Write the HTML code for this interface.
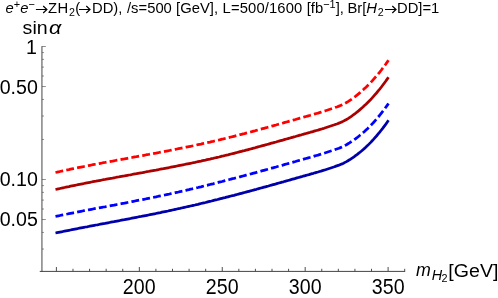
<!DOCTYPE html>
<html><head><meta charset="utf-8"><style>
html,body{margin:0;padding:0;background:#fff;}
body{width:498px;height:298px;overflow:hidden;position:relative;font-family:"Liberation Sans",sans-serif;color:#000;}
svg.plot{position:absolute;left:0;top:0;}
.t{position:absolute;white-space:nowrap;line-height:20px;height:20px;}
.tt{font-size:14.8px;top:-1.7px;transform:scaleY(1.03);transform-origin:0 15.2px;}
.lab{font-size:19.6px;transform:scaleY(1.05);transform-origin:50% 50%;}
i{font-style:italic;}
sup{font-size:74%;line-height:0;vertical-align:baseline;position:relative;top:-0.46em;}
sub{font-size:72%;line-height:0;vertical-align:baseline;position:relative;top:0.25em;margin-left:0.8px;}
svg.ar{display:block;}
</style></head><body>
<svg class="plot" width="498" height="298" viewBox="0 0 498 298">
<g stroke="#444" stroke-width="1" fill="none">
<line x1="41.95" y1="46.2" x2="41.95" y2="271.9"/>
<line x1="39.75" y1="271.4" x2="405.15" y2="271.4"/>
</g><g stroke="#444" stroke-width="0.6" fill="none"><line x1="41.95" y1="46.50" x2="45.85" y2="46.50"/>
<line x1="41.95" y1="52.59" x2="43.95" y2="52.59"/>
<line x1="41.95" y1="59.39" x2="43.95" y2="59.39"/>
<line x1="41.95" y1="67.10" x2="43.95" y2="67.10"/>
<line x1="41.95" y1="76.01" x2="43.95" y2="76.01"/>
<line x1="41.95" y1="86.54" x2="45.85" y2="86.54"/>
<line x1="41.95" y1="99.43" x2="43.95" y2="99.43"/>
<line x1="41.95" y1="116.04" x2="43.95" y2="116.04"/>
<line x1="41.95" y1="139.46" x2="43.95" y2="139.46"/>
<line x1="41.95" y1="179.50" x2="45.85" y2="179.50"/>
<line x1="41.95" y1="185.59" x2="43.95" y2="185.59"/>
<line x1="41.95" y1="192.39" x2="43.95" y2="192.39"/>
<line x1="41.95" y1="200.10" x2="43.95" y2="200.10"/>
<line x1="41.95" y1="209.01" x2="43.95" y2="209.01"/>
<line x1="41.95" y1="219.54" x2="45.85" y2="219.54"/>
<line x1="41.95" y1="232.43" x2="43.95" y2="232.43"/>
<line x1="41.95" y1="249.04" x2="43.95" y2="249.04"/>
</g><g stroke="#444" stroke-width="0.95" fill="none"><line x1="56.40" y1="271.4" x2="56.40" y2="267.0"/>
<line x1="72.98" y1="271.4" x2="72.98" y2="268.79999999999995"/>
<line x1="89.57" y1="271.4" x2="89.57" y2="268.79999999999995"/>
<line x1="106.16" y1="271.4" x2="106.16" y2="268.79999999999995"/>
<line x1="122.74" y1="271.4" x2="122.74" y2="268.79999999999995"/>
<line x1="139.33" y1="271.4" x2="139.33" y2="267.0"/>
<line x1="155.91" y1="271.4" x2="155.91" y2="268.79999999999995"/>
<line x1="172.50" y1="271.4" x2="172.50" y2="268.79999999999995"/>
<line x1="189.08" y1="271.4" x2="189.08" y2="268.79999999999995"/>
<line x1="205.67" y1="271.4" x2="205.67" y2="268.79999999999995"/>
<line x1="222.25" y1="271.4" x2="222.25" y2="267.0"/>
<line x1="238.84" y1="271.4" x2="238.84" y2="268.79999999999995"/>
<line x1="255.42" y1="271.4" x2="255.42" y2="268.79999999999995"/>
<line x1="272.00" y1="271.4" x2="272.00" y2="268.79999999999995"/>
<line x1="288.59" y1="271.4" x2="288.59" y2="268.79999999999995"/>
<line x1="305.18" y1="271.4" x2="305.18" y2="267.0"/>
<line x1="321.76" y1="271.4" x2="321.76" y2="268.79999999999995"/>
<line x1="338.34" y1="271.4" x2="338.34" y2="268.79999999999995"/>
<line x1="354.93" y1="271.4" x2="354.93" y2="268.79999999999995"/>
<line x1="371.51" y1="271.4" x2="371.51" y2="268.79999999999995"/>
<line x1="388.10" y1="271.4" x2="388.10" y2="267.0"/>
<line x1="404.69" y1="271.4" x2="404.69" y2="268.79999999999995"/>
</g>
<path d="M55.5,233.0 L57.0,232.7 L58.5,232.4 L60.0,232.1 L61.5,231.8 L63.0,231.5 L64.5,231.2 L66.0,230.9 L67.5,230.6 L69.0,230.3 L70.5,230.0 L72.0,229.7 L73.5,229.4 L75.0,229.1 L76.5,228.8 L78.0,228.5 L79.5,228.2 L81.0,227.9 L82.5,227.6 L84.0,227.3 L85.5,227.0 L87.0,226.8 L88.5,226.5 L90.0,226.2 L91.5,225.9 L93.0,225.6 L94.5,225.3 L96.0,225.0 L97.5,224.8 L99.0,224.5 L100.5,224.2 L102.0,223.9 L103.5,223.6 L105.0,223.4 L106.5,223.1 L108.0,222.8 L109.5,222.5 L111.0,222.2 L112.5,221.9 L114.0,221.7 L115.5,221.4 L117.0,221.1 L118.5,220.8 L120.0,220.5 L121.5,220.2 L123.0,219.9 L124.5,219.7 L126.0,219.4 L127.5,219.1 L129.0,218.8 L130.5,218.5 L132.0,218.2 L133.5,217.9 L135.0,217.6 L136.5,217.3 L138.0,217.0 L139.5,216.7 L141.0,216.5 L142.5,216.2 L144.0,215.9 L145.5,215.6 L147.0,215.3 L148.5,215.0 L150.0,214.7 L151.5,214.4 L153.0,214.1 L154.5,213.8 L156.0,213.5 L157.5,213.2 L159.0,212.9 L160.5,212.6 L162.0,212.2 L163.5,211.9 L165.0,211.6 L166.5,211.3 L168.0,211.0 L169.5,210.6 L171.0,210.3 L172.5,210.0 L174.0,209.7 L175.5,209.3 L177.0,209.0 L178.5,208.7 L180.0,208.4 L181.5,208.0 L183.0,207.7 L184.5,207.3 L186.0,207.0 L187.5,206.7 L189.0,206.3 L190.5,206.0 L192.0,205.7 L193.5,205.3 L195.0,205.0 L196.5,204.6 L198.0,204.3 L199.5,203.9 L201.0,203.5 L202.5,203.2 L204.0,202.8 L205.5,202.5 L207.0,202.1 L208.5,201.7 L210.0,201.3 L211.5,201.0 L213.0,200.6 L214.5,200.2 L216.0,199.8 L217.5,199.5 L219.0,199.1 L220.5,198.7 L222.0,198.3 L223.5,197.9 L225.0,197.6 L226.5,197.2 L228.0,196.8 L229.5,196.4 L231.0,196.0 L232.5,195.6 L234.0,195.3 L235.5,194.9 L237.0,194.5 L238.5,194.1 L240.0,193.7 L241.5,193.3 L243.0,192.9 L244.5,192.5 L246.0,192.1 L247.5,191.7 L249.0,191.3 L250.5,190.9 L252.0,190.5 L253.5,190.1 L255.0,189.7 L256.5,189.3 L258.0,188.8 L259.5,188.4 L261.0,188.0 L262.5,187.6 L264.0,187.2 L265.5,186.8 L267.0,186.4 L268.5,186.0 L270.0,185.5 L271.5,185.1 L273.0,184.7 L274.5,184.3 L276.0,183.9 L277.5,183.4 L279.0,183.0 L280.5,182.6 L282.0,182.2 L283.5,181.8 L285.0,181.3 L286.5,180.9 L288.0,180.5 L289.5,180.1 L291.0,179.6 L292.5,179.2 L294.0,178.8 L295.5,178.4 L297.0,177.9 L298.5,177.5 L300.0,177.1 L301.5,176.7 L303.0,176.2 L304.5,175.8 L306.0,175.4 L307.5,175.0 L309.0,174.6 L310.5,174.1 L312.0,173.7 L313.5,173.3 L315.0,172.8 L316.5,172.4 L318.0,172.0 L319.5,171.5 L321.0,171.1 L322.5,170.6 L324.0,170.2 L325.5,169.7 L327.0,169.2 L328.5,168.7 L330.0,168.2 L331.5,167.7 L333.0,167.2 L334.5,166.7 L336.0,166.1 L337.5,165.6 L339.0,165.1 L340.5,164.5 L342.0,163.9 L343.5,163.2 L345.0,162.4 L346.5,161.6 L348.0,160.7 L349.5,159.8 L351.0,158.8 L352.5,157.8 L354.0,156.8 L355.5,155.7 L357.0,154.6 L358.5,153.4 L360.0,152.2 L361.5,151.0 L363.0,149.7 L364.5,148.4 L366.0,147.0 L367.5,145.6 L369.0,144.1 L370.5,142.6 L372.0,141.0 L373.5,139.4 L375.0,137.7 L376.5,136.0 L378.0,134.2 L379.5,132.4 L381.0,130.5 L382.5,128.6 L384.0,126.6 L385.5,124.6 L387.0,122.5 L388.5,120.3" fill="none" stroke="#0000aa" stroke-width="2.75" stroke-linejoin="round"/>
<path d="M55.5,216.4 L57.0,216.1 L58.5,215.8 L60.0,215.5 L61.5,215.2 L63.0,214.9 L64.5,214.6 L66.0,214.3 L67.5,214.0 L69.0,213.7 L70.5,213.4 L72.0,213.1 L73.5,212.8 L75.0,212.5 L76.5,212.2 L78.0,211.9 L79.5,211.6 L81.0,211.3 L82.5,211.0 L84.0,210.7 L85.5,210.4 L87.0,210.2 L88.5,209.9 L90.0,209.6 L91.5,209.3 L93.0,209.0 L94.5,208.7 L96.0,208.4 L97.5,208.2 L99.0,207.9 L100.5,207.6 L102.0,207.3 L103.5,207.0 L105.0,206.8 L106.5,206.5 L108.0,206.2 L109.5,205.9 L111.0,205.6 L112.5,205.3 L114.0,205.1 L115.5,204.8 L117.0,204.5 L118.5,204.2 L120.0,203.9 L121.5,203.6 L123.0,203.3 L124.5,203.1 L126.0,202.8 L127.5,202.5 L129.0,202.2 L130.5,201.9 L132.0,201.6 L133.5,201.3 L135.0,201.0 L136.5,200.7 L138.0,200.4 L139.5,200.1 L141.0,199.9 L142.5,199.6 L144.0,199.3 L145.5,199.0 L147.0,198.7 L148.5,198.4 L150.0,198.1 L151.5,197.8 L153.0,197.5 L154.5,197.2 L156.0,196.9 L157.5,196.5 L159.0,196.2 L160.5,195.9 L162.0,195.6 L163.5,195.3 L165.0,195.0 L166.5,194.6 L168.0,194.3 L169.5,194.0 L171.0,193.6 L172.5,193.3 L174.0,193.0 L175.5,192.6 L177.0,192.3 L178.5,192.0 L180.0,191.6 L181.5,191.3 L183.0,191.0 L184.5,190.6 L186.0,190.3 L187.5,189.9 L189.0,189.6 L190.5,189.2 L192.0,188.9 L193.5,188.5 L195.0,188.2 L196.5,187.8 L198.0,187.5 L199.5,187.1 L201.0,186.8 L202.5,186.4 L204.0,186.0 L205.5,185.6 L207.0,185.3 L208.5,184.9 L210.0,184.5 L211.5,184.1 L213.0,183.8 L214.5,183.4 L216.0,183.0 L217.5,182.6 L219.0,182.2 L220.5,181.8 L222.0,181.5 L223.5,181.1 L225.0,180.7 L226.5,180.3 L228.0,179.9 L229.5,179.5 L231.0,179.1 L232.5,178.7 L234.0,178.4 L235.5,178.0 L237.0,177.6 L238.5,177.2 L240.0,176.8 L241.5,176.4 L243.0,176.0 L244.5,175.6 L246.0,175.2 L247.5,174.8 L249.0,174.4 L250.5,174.0 L252.0,173.6 L253.5,173.2 L255.0,172.8 L256.5,172.4 L258.0,171.9 L259.5,171.5 L261.0,171.1 L262.5,170.7 L264.0,170.3 L265.5,169.9 L267.0,169.5 L268.5,169.1 L270.0,168.6 L271.5,168.2 L273.0,167.8 L274.5,167.4 L276.0,167.0 L277.5,166.5 L279.0,166.1 L280.5,165.7 L282.0,165.3 L283.5,164.9 L285.0,164.4 L286.5,164.0 L288.0,163.6 L289.5,163.2 L291.0,162.7 L292.5,162.3 L294.0,161.9 L295.5,161.5 L297.0,161.0 L298.5,160.6 L300.0,160.2 L301.5,159.8 L303.0,159.3 L304.5,158.9 L306.0,158.5 L307.5,158.1 L309.0,157.7 L310.5,157.2 L312.0,156.8 L313.5,156.4 L315.0,155.9 L316.5,155.5 L318.0,155.1 L319.5,154.6 L321.0,154.2 L322.5,153.7 L324.0,153.3 L325.5,152.8 L327.0,152.3 L328.5,151.8 L330.0,151.3 L331.5,150.8 L333.0,150.3 L334.5,149.8 L336.0,149.2 L337.5,148.7 L339.0,148.2 L340.5,147.6 L342.0,147.0 L343.5,146.3 L345.0,145.5 L346.5,144.7 L348.0,143.8 L349.5,142.9 L351.0,141.9 L352.5,140.9 L354.0,139.9 L355.5,138.8 L357.0,137.7 L358.5,136.5 L360.0,135.3 L361.5,134.1 L363.0,132.8 L364.5,131.5 L366.0,130.1 L367.5,128.7 L369.0,127.2 L370.5,125.7 L372.0,124.1 L373.5,122.5 L375.0,120.8 L376.5,119.1 L378.0,117.3 L379.5,115.5 L381.0,113.6 L382.5,111.7 L384.0,109.7 L385.5,107.7 L387.0,105.6 L388.5,103.4" fill="none" stroke="#0000ff" stroke-width="2.75" stroke-dasharray="7.85 3.2" stroke-linejoin="round"/>
<path d="M55.5,189.5 L57.0,189.2 L58.5,188.8 L60.0,188.5 L61.5,188.2 L63.0,187.8 L64.5,187.5 L66.0,187.2 L67.5,186.9 L69.0,186.6 L70.5,186.2 L72.0,185.9 L73.5,185.6 L75.0,185.3 L76.5,185.0 L78.0,184.7 L79.5,184.4 L81.0,184.1 L82.5,183.8 L84.0,183.5 L85.5,183.2 L87.0,182.9 L88.5,182.6 L90.0,182.3 L91.5,182.0 L93.0,181.7 L94.5,181.4 L96.0,181.2 L97.5,180.9 L99.0,180.6 L100.5,180.3 L102.0,180.0 L103.5,179.7 L105.0,179.5 L106.5,179.2 L108.0,178.9 L109.5,178.6 L111.0,178.3 L112.5,178.1 L114.0,177.8 L115.5,177.5 L117.0,177.2 L118.5,177.0 L120.0,176.7 L121.5,176.4 L123.0,176.1 L124.5,175.9 L126.0,175.6 L127.5,175.3 L129.0,175.0 L130.5,174.8 L132.0,174.5 L133.5,174.2 L135.0,173.9 L136.5,173.7 L138.0,173.4 L139.5,173.1 L141.0,172.8 L142.5,172.6 L144.0,172.3 L145.5,172.0 L147.0,171.7 L148.5,171.5 L150.0,171.2 L151.5,170.9 L153.0,170.6 L154.5,170.3 L156.0,170.1 L157.5,169.8 L159.0,169.5 L160.5,169.2 L162.0,168.9 L163.5,168.7 L165.0,168.4 L166.5,168.1 L168.0,167.8 L169.5,167.5 L171.0,167.2 L172.5,166.9 L174.0,166.6 L175.5,166.3 L177.0,166.0 L178.5,165.7 L180.0,165.4 L181.5,165.1 L183.0,164.8 L184.5,164.5 L186.0,164.2 L187.5,163.9 L189.0,163.6 L190.5,163.3 L192.0,163.0 L193.5,162.7 L195.0,162.4 L196.5,162.0 L198.0,161.7 L199.5,161.4 L201.0,161.1 L202.5,160.7 L204.0,160.4 L205.5,160.1 L207.0,159.7 L208.5,159.4 L210.0,159.1 L211.5,158.7 L213.0,158.4 L214.5,158.0 L216.0,157.7 L217.5,157.3 L219.0,157.0 L220.5,156.6 L222.0,156.2 L223.5,155.9 L225.0,155.5 L226.5,155.1 L228.0,154.8 L229.5,154.4 L231.0,154.0 L232.5,153.7 L234.0,153.3 L235.5,152.9 L237.0,152.5 L238.5,152.1 L240.0,151.7 L241.5,151.3 L243.0,150.9 L244.5,150.6 L246.0,150.2 L247.5,149.8 L249.0,149.4 L250.5,149.0 L252.0,148.6 L253.5,148.2 L255.0,147.8 L256.5,147.3 L258.0,146.9 L259.5,146.5 L261.0,146.1 L262.5,145.7 L264.0,145.3 L265.5,144.9 L267.0,144.5 L268.5,144.1 L270.0,143.6 L271.5,143.2 L273.0,142.8 L274.5,142.4 L276.0,142.0 L277.5,141.5 L279.0,141.1 L280.5,140.7 L282.0,140.3 L283.5,139.9 L285.0,139.4 L286.5,139.0 L288.0,138.6 L289.5,138.2 L291.0,137.7 L292.5,137.3 L294.0,136.9 L295.5,136.5 L297.0,136.0 L298.5,135.6 L300.0,135.2 L301.5,134.8 L303.0,134.3 L304.5,133.9 L306.0,133.5 L307.5,133.1 L309.0,132.7 L310.5,132.2 L312.0,131.8 L313.5,131.4 L315.0,130.9 L316.5,130.5 L318.0,130.1 L319.5,129.6 L321.0,129.2 L322.5,128.7 L324.0,128.3 L325.5,127.8 L327.0,127.3 L328.5,126.8 L330.0,126.3 L331.5,125.8 L333.0,125.3 L334.5,124.8 L336.0,124.2 L337.5,123.7 L339.0,123.1 L340.5,122.5 L342.0,121.9 L343.5,121.1 L345.0,120.3 L346.5,119.5 L348.0,118.6 L349.5,117.6 L351.0,116.6 L352.5,115.5 L354.0,114.4 L355.5,113.3 L357.0,112.1 L358.5,110.9 L360.0,109.6 L361.5,108.3 L363.0,107.0 L364.5,105.6 L366.0,104.2 L367.5,102.7 L369.0,101.2 L370.5,99.7 L372.0,98.1 L373.5,96.4 L375.0,94.7 L376.5,93.0 L378.0,91.2 L379.5,89.4 L381.0,87.5 L382.5,85.5 L384.0,83.5 L385.5,81.5 L387.0,79.4 L388.5,77.2" fill="none" stroke="#aa0000" stroke-width="2.75" stroke-linejoin="round"/>
<path d="M55.5,172.5 L57.0,172.2 L58.5,171.8 L60.0,171.5 L61.5,171.2 L63.0,170.8 L64.5,170.5 L66.0,170.2 L67.5,169.9 L69.0,169.6 L70.5,169.2 L72.0,168.9 L73.5,168.6 L75.0,168.3 L76.5,168.0 L78.0,167.7 L79.5,167.4 L81.0,167.1 L82.5,166.8 L84.0,166.5 L85.5,166.2 L87.0,165.9 L88.5,165.6 L90.0,165.3 L91.5,165.0 L93.0,164.7 L94.5,164.4 L96.0,164.2 L97.5,163.9 L99.0,163.6 L100.5,163.3 L102.0,163.0 L103.5,162.7 L105.0,162.5 L106.5,162.2 L108.0,161.9 L109.5,161.6 L111.0,161.3 L112.5,161.1 L114.0,160.8 L115.5,160.5 L117.0,160.2 L118.5,160.0 L120.0,159.7 L121.5,159.4 L123.0,159.1 L124.5,158.9 L126.0,158.6 L127.5,158.3 L129.0,158.0 L130.5,157.8 L132.0,157.5 L133.5,157.2 L135.0,156.9 L136.5,156.7 L138.0,156.4 L139.5,156.1 L141.0,155.8 L142.5,155.6 L144.0,155.3 L145.5,155.0 L147.0,154.7 L148.5,154.5 L150.0,154.2 L151.5,153.9 L153.0,153.6 L154.5,153.3 L156.0,153.1 L157.5,152.8 L159.0,152.5 L160.5,152.2 L162.0,151.9 L163.5,151.7 L165.0,151.4 L166.5,151.1 L168.0,150.8 L169.5,150.5 L171.0,150.2 L172.5,149.9 L174.0,149.6 L175.5,149.3 L177.0,149.0 L178.5,148.7 L180.0,148.4 L181.5,148.1 L183.0,147.8 L184.5,147.5 L186.0,147.2 L187.5,146.9 L189.0,146.6 L190.5,146.3 L192.0,146.0 L193.5,145.7 L195.0,145.4 L196.5,145.0 L198.0,144.7 L199.5,144.4 L201.0,144.1 L202.5,143.7 L204.0,143.4 L205.5,143.1 L207.0,142.7 L208.5,142.4 L210.0,142.1 L211.5,141.7 L213.0,141.4 L214.5,141.0 L216.0,140.7 L217.5,140.3 L219.0,140.0 L220.5,139.6 L222.0,139.2 L223.5,138.9 L225.0,138.5 L226.5,138.1 L228.0,137.8 L229.5,137.4 L231.0,137.0 L232.5,136.7 L234.0,136.3 L235.5,135.9 L237.0,135.5 L238.5,135.1 L240.0,134.7 L241.5,134.3 L243.0,133.9 L244.5,133.6 L246.0,133.2 L247.5,132.8 L249.0,132.4 L250.5,132.0 L252.0,131.6 L253.5,131.2 L255.0,130.8 L256.5,130.3 L258.0,129.9 L259.5,129.5 L261.0,129.1 L262.5,128.7 L264.0,128.3 L265.5,127.9 L267.0,127.5 L268.5,127.1 L270.0,126.6 L271.5,126.2 L273.0,125.8 L274.5,125.4 L276.0,125.0 L277.5,124.5 L279.0,124.1 L280.5,123.7 L282.0,123.3 L283.5,122.9 L285.0,122.4 L286.5,122.0 L288.0,121.6 L289.5,121.2 L291.0,120.7 L292.5,120.3 L294.0,119.9 L295.5,119.5 L297.0,119.0 L298.5,118.6 L300.0,118.2 L301.5,117.8 L303.0,117.3 L304.5,116.9 L306.0,116.5 L307.5,116.1 L309.0,115.7 L310.5,115.2 L312.0,114.8 L313.5,114.4 L315.0,113.9 L316.5,113.5 L318.0,113.1 L319.5,112.6 L321.0,112.2 L322.5,111.7 L324.0,111.3 L325.5,110.8 L327.0,110.3 L328.5,109.8 L330.0,109.3 L331.5,108.8 L333.0,108.3 L334.5,107.8 L336.0,107.2 L337.5,106.7 L339.0,106.1 L340.5,105.5 L342.0,104.9 L343.5,104.1 L345.0,103.3 L346.5,102.5 L348.0,101.6 L349.5,100.6 L351.0,99.6 L352.5,98.5 L354.0,97.4 L355.5,96.3 L357.0,95.1 L358.5,93.9 L360.0,92.6 L361.5,91.3 L363.0,90.0 L364.5,88.6 L366.0,87.2 L367.5,85.7 L369.0,84.2 L370.5,82.7 L372.0,81.1 L373.5,79.4 L375.0,77.7 L376.5,76.0 L378.0,74.2 L379.5,72.4 L381.0,70.5 L382.5,68.5 L384.0,66.5 L385.5,64.5 L387.0,62.4 L388.5,60.2" fill="none" stroke="#ff0000" stroke-width="2.75" stroke-dasharray="7.85 3.2" stroke-linejoin="round"/>
<path d="M35.9,9.5 H46.70 M43.20,6.0 L46.90,9.5 L43.20,13.0" fill="none" stroke="#000" stroke-width="1.2"/>
<path d="M79.0,9.5 H89.80 M86.30,6.0 L90.00,9.5 L86.30,13.0" fill="none" stroke="#000" stroke-width="1.2"/>
<path d="M385.0,9.5 H395.80 M392.30,6.0 L396.00,9.5 L392.30,13.0" fill="none" stroke="#000" stroke-width="1.2"/>
</svg>
<div id="txt" style="will-change:transform;position:absolute;left:0;top:0;width:498px;height:298px;">
<div class="t tt" id="c1" style="left:5.6px;"><i>e</i><sup>+</sup><i>e</i><sup>&minus;</sup></div>
<div class="t tt" id="c3a" style="left:48.0px;">Z</div>
<div class="t tt" id="c3" style="left:57.4px;">H<sub style="margin-right:0.4px">2</sub>(</div>
<div class="t tt" id="c5" style="left:92.0px;">DD),</div>
<div class="t tt" id="c6" style="left:127.0px;">/s=500</div>
<div class="t tt" id="c7" style="left:176.1px;">[GeV],</div>
<div class="t tt" id="c8" style="left:222.6px;"><span style="letter-spacing:0.12px">L=500/1600</span></div>
<div class="t tt" id="c9" style="left:306.7px;">[fb<sup>&minus;1</sup>],</div>
<div class="t tt" id="c10" style="left:347.4px;">Br[<i>H</i><sub>2</sub></div>
<div class="t tt" id="c12" style="left:397.0px;">DD]=1</div>

<div class="t lab" id="ylab" style="left:22.6px;top:17.15px;transform:scaleY(0.94);transform-origin:0 17.5px;">sin<i style="margin-left:1.1px;display:inline-block;transform:scaleX(1.1);transform-origin:0 50%;">&alpha;</i></div>
<div class="t lab" id="y1" style="right:461.0px;top:37.1px;">1</div>
<div class="t lab" id="y05" style="right:460.2px;top:76.7px;">0.50</div>
<div class="t lab" id="y01" style="right:460.2px;top:169.2px;">0.10</div>
<div class="t lab" id="y005" style="right:460.2px;top:209.2px;">0.05</div>
<div class="t lab" id="x200" style="left:139.2px;top:276.2px;transform:translateX(-50%) scaleY(1.09);">200</div>
<div class="t lab" id="x250" style="left:222.2px;top:276.2px;transform:translateX(-50%) scaleY(1.09);">250</div>
<div class="t lab" id="x300" style="left:305.2px;top:276.2px;transform:translateX(-50%) scaleY(1.09);">300</div>
<div class="t lab" id="x350" style="left:388.2px;top:276.2px;transform:translateX(-50%) scaleY(1.09);">350</div>
<div class="t" id="xm" style="left:416px;top:260.0px;font-size:17.8px;"><i>m</i></div>
<div class="t" id="xH" style="left:431.8px;top:265.0px;font-size:14.4px;"><i>H</i></div>
<div class="t" id="x2" style="left:441.5px;top:267.9px;font-size:10.8px;">2</div>
<div class="t lab" id="xgev" style="left:448.3px;top:259.5px;transform:scaleY(0.975);">[GeV]</div>
</div>
</body></html>
